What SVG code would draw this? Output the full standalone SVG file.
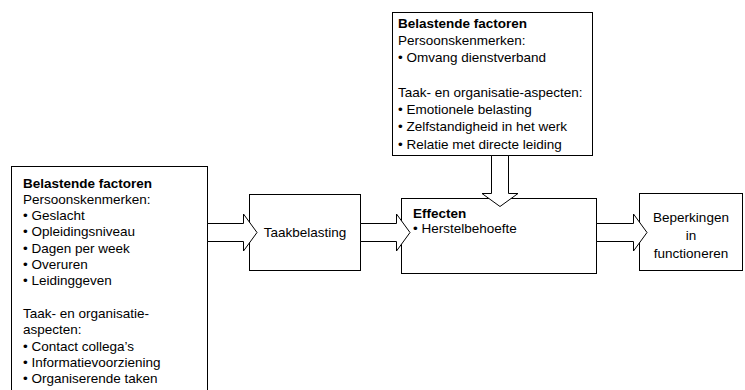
<svg xmlns="http://www.w3.org/2000/svg" width="745" height="390" viewBox="0 0 745 390">
<style>
.box{fill:#fff;stroke:#000;stroke-width:1}
.arr{fill:#fff;stroke:#000;stroke-width:1;stroke-linejoin:miter}
text{font-family:"Liberation Sans",Arial,sans-serif;font-size:13.5px;fill:#000}
.b{font-weight:bold}
.c{text-anchor:middle}
</style>
<rect width="745" height="390" fill="#fff"/>
<g id="left-factors">
<rect class="box" x="11.5" y="166.5" width="196" height="230"/>
<text x="23" y="187.5"><tspan class="b">Belastende factoren</tspan><tspan x="23" dy="16.3">Persoonskenmerken:</tspan><tspan x="23" dy="16.3">• Geslacht</tspan><tspan x="23" dy="16.3">• Opleidingsniveau</tspan><tspan x="23" dy="16.3">• Dagen per week</tspan><tspan x="23" dy="16.3">• Overuren</tspan><tspan x="23" dy="16.3">• Leidinggeven</tspan><tspan x="23" dy="32.6">Taak- en organisatie-</tspan><tspan x="23" dy="16.3">aspecten:</tspan><tspan x="23" dy="16.3">• Contact collega’s</tspan><tspan x="23" dy="16.3">• Informatievoorziening</tspan><tspan x="23" dy="16.3">• Organiserende taken</tspan></text>
</g>
<g id="top-factors">
<rect class="box" x="392.5" y="12.5" width="200" height="143"/>
<text x="398" y="27.5"><tspan class="b">Belastende factoren</tspan><tspan x="398" dy="17.3">Persoonskenmerken:</tspan><tspan x="398" dy="17.3">• Omvang dienstverband</tspan><tspan x="398" dy="34.6">Taak- en organisatie-aspecten:</tspan><tspan x="398" dy="17.3">• Emotionele belasting</tspan><tspan x="398" dy="17.3">• Zelfstandigheid in het werk</tspan><tspan x="398" dy="17.3">• Relatie met directe leiding</tspan></text>
</g>
<g id="taakbelasting">
<rect class="box" x="249.5" y="194.5" width="111" height="76"/>
<text class="c" x="305" y="237">Taakbelasting</text>
</g>
<g id="effecten">
<rect class="box" x="401.5" y="198.5" width="195" height="75"/>
<text x="413" y="218" class="b">Effecten</text>
<text x="413" y="233">• Herstelbehoefte</text>
</g>
<g id="beperkingen">
<rect class="box" x="639.5" y="193.5" width="103" height="77"/>
<text class="c" x="691" y="222">Beperkingen</text>
<text class="c" x="691" y="240">in</text>
<text class="c" x="691" y="258">functioneren</text>
</g>
<g id="connectors">
<polygon class="arr" points="207.5,223.5 243.5,223.5 243.5,214 257,232.5 243.5,251 243.5,241.5 207.5,241.5"/>
<polygon class="arr" points="360.5,223.5 396.5,223.5 396.5,214 410,232.5 396.5,251 396.5,241.5 360.5,241.5"/>
<polygon class="arr" points="596.5,223.5 633.5,223.5 633.5,214 647,232.5 633.5,251 633.5,241.5 596.5,241.5"/>
<polygon class="arr" points="491.5,155.5 491.5,193.5 482,193.5 500,206.5 518,193.5 508.5,193.5 508.5,155.5"/>
</g>
</svg>
